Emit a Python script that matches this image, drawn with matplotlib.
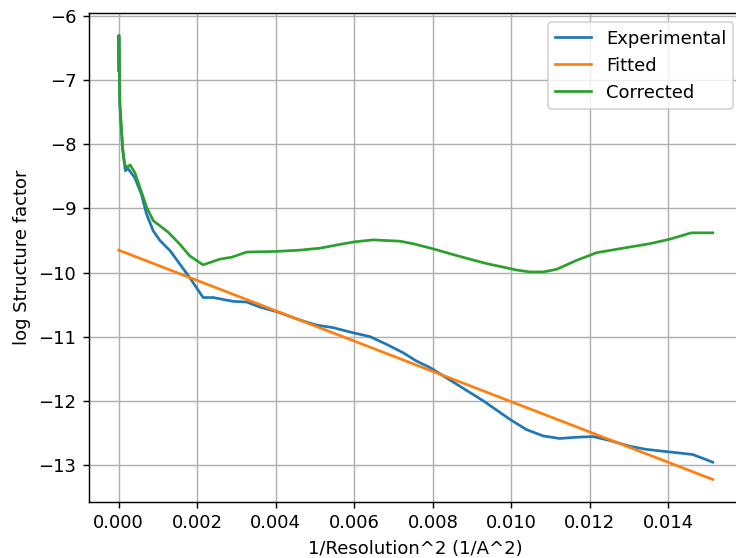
import matplotlib
matplotlib.use("Agg")
import matplotlib.pyplot as plt

# Experimental curve
exp_x = [0.0, 0.000005, 0.00003, 0.0001, 0.00017, 0.00024, 0.00041, 0.00058, 0.00071,
         0.00088, 0.00105, 0.00131, 0.00156, 0.00181, 0.00215, 0.00241, 0.00266,
         0.00292, 0.00326, 0.0036, 0.00402, 0.00461, 0.00504, 0.00546, 0.00597,
         0.0064, 0.00682, 0.00724, 0.00758, 0.00792, 0.0086, 0.00928, 0.00996,
         0.01038, 0.01081, 0.01123, 0.01166, 0.01208, 0.0125, 0.01301, 0.01344,
         0.01403, 0.01462, 0.01513]
exp_y = [-6.85, -6.30, -7.40, -8.08, -8.41, -8.38, -8.52, -8.78, -9.09,
         -9.35, -9.50, -9.66, -9.87, -10.08, -10.39, -10.39, -10.42,
         -10.45, -10.46, -10.54, -10.61, -10.74, -10.82, -10.86, -10.94,
         -11.00, -11.12, -11.25, -11.38, -11.48, -11.74, -12.00, -12.29,
         -12.45, -12.55, -12.59, -12.57, -12.56, -12.62, -12.71, -12.76,
         -12.80, -12.84, -12.96]

# Fitted line (end points)
fit_x = [0.0, 0.01513]
fit_y = [-9.65, -13.23]

# Corrected curve
cor_x = [0.0, 0.000005, 0.00003, 0.0001, 0.00015, 0.00022, 0.00029, 0.00041, 0.00054,
         0.00071, 0.00088, 0.00126, 0.00156, 0.00181, 0.00215, 0.00258, 0.00288,
         0.00326, 0.00402, 0.00461, 0.00512, 0.00555, 0.00601, 0.00648, 0.00716,
         0.0075, 0.00801, 0.00852, 0.00894, 0.00937, 0.01013, 0.01047, 0.01081,
         0.01115, 0.01166, 0.01217, 0.01293, 0.01352, 0.01403, 0.01458, 0.01513]
cor_y = [-6.85, -6.30, -7.38, -8.05, -8.31, -8.36, -8.32, -8.44, -8.67,
         -8.98, -9.19, -9.37, -9.56, -9.74, -9.88, -9.79, -9.76,
         -9.68, -9.67, -9.65, -9.62, -9.57, -9.52, -9.49, -9.51,
         -9.55, -9.63, -9.72, -9.79, -9.86, -9.96, -9.99, -9.99,
         -9.95, -9.81, -9.69, -9.61, -9.55, -9.48, -9.38, -9.38]

DPI = 130
fig = plt.figure(figsize=(736 / DPI, 558 / DPI), dpi=DPI)
ax = fig.add_axes([89 / 736, (558 - 501.7) / 558, (742.5 - 89) / 736, (501.7 - 13.3) / 558])
ax.plot(exp_x, exp_y, label="Experimental")
ax.plot(fit_x, fit_y, label="Fitted")
ax.plot(cor_x, cor_y, label="Corrected")
ax.set_xlabel("1/Resolution^2 (1/A^2)")
ax.set_ylabel("log Structure factor")
ax.grid(True)
ax.legend(loc="upper right")
fig.savefig("out.png", dpi=DPI)
